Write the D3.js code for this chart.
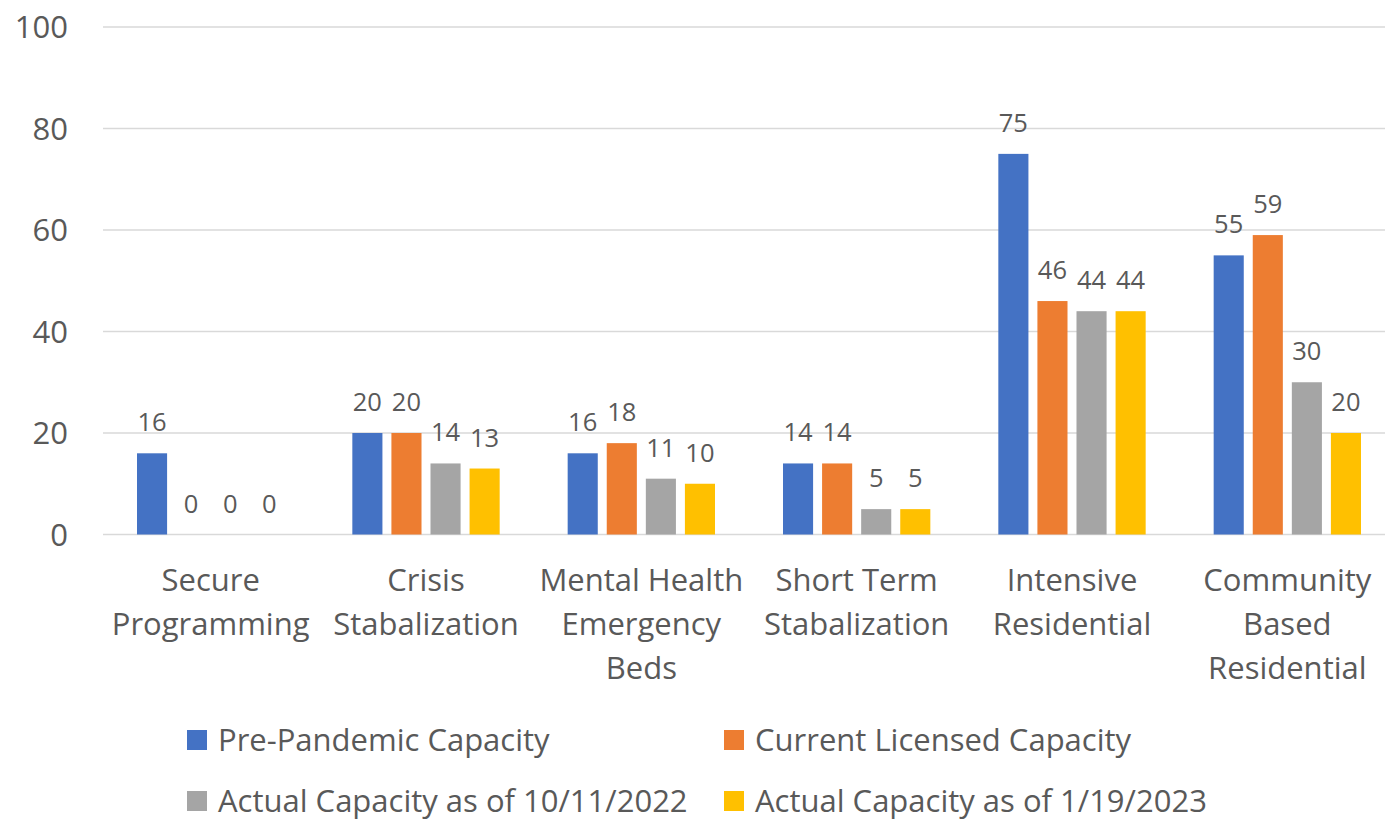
<!DOCTYPE html>
<html>
<head>
<meta charset="utf-8">
<script src="https://cdn.jsdelivr.net/npm/d3@7"></script>
<style>
  body { margin: 0; background: #fff; }
  svg { display: block; }
  text { font-family: "Open Sans", "Noto Sans", sans-serif; fill: #595959; }
</style>
</head>
<body>
<div id="chart"></div>
<script>
// chart data
const categories = [
    ["Secure", "Programming"],
    ["Crisis", "Stabalization"],
    ["Mental Health", "Emergency", "Beds"],
    ["Short Term", "Stabalization"],
    ["Intensive", "Residential"],
    ["Community", "Based", "Residential"]
];
const seriesNames = [
    "Pre-Pandemic Capacity",
    "Current Licensed Capacity",
    "Actual Capacity as of 10/11/2022",
    "Actual Capacity as of 1/19/2023"
];
const prePandemic = [16, 20, 16, 14, 75, 55];
const currentLicensed = [0, 20, 18, 14, 46, 59];
const actual2022 = [0, 14, 11, 5, 44, 30];
const actual2023 = [0, 13, 10, 5, 44, 20];
const yTicks = [0, 20, 40, 60, 80, 100];

const colors = ["#4472C4", "#ED7D31", "#A5A5A5", "#FFC000"];
const seriesValues = [prePandemic, currentLicensed, actual2022, actual2023];

const width = 1385;
const height = 823;

const svg = d3.select("#chart")
    .append("svg")
    .attr("width", width)
    .attr("height", height);

// plot area (runs a little past the right edge, like the reference crop)
const x0 = d3.scaleBand()
    .domain(d3.range(categories.length))
    .range([103, 1395])
    .paddingInner(0)
    .paddingOuter(0);

const x1 = d3.scaleBand()
    .domain(d3.range(seriesNames.length))
    .range([34, x0.bandwidth() - 34])
    .paddingInner(0.23)
    .paddingOuter(0);

const y = d3.scaleLinear()
    .domain([0, 100])
    .range([534.5, 27]);

// gridlines
svg.append("g")
    .selectAll("line")
    .data(yTicks)
    .enter().append("line")
    .attr("x1", 103)
    .attr("x2", width)
    .attr("y1", d => y(d))
    .attr("y2", d => y(d))
    .attr("stroke", "#d9d9d9")
    .attr("stroke-width", 1.5);

// y tick labels
svg.append("g")
    .selectAll("text")
    .data(yTicks)
    .enter().append("text")
    .attr("x", 68)
    .attr("y", d => y(d))
    .attr("dy", "0.36em")
    .attr("text-anchor", "end")
    .style("font-size", "31px")
    .text(d => d);

// bars + value labels
const groups = svg.append("g")
    .selectAll("g")
    .data(categories)
    .enter().append("g")
    .attr("transform", (d, i) => `translate(${x0(i)},0)`);

groups.each(function (cat, ci) {
    const g = d3.select(this);
    const vals = seriesValues.map((s, si) => ({ si: si, v: s[ci] }));

    g.selectAll("rect")
        .data(vals)
        .enter().append("rect")
        .attr("x", d => x1(d.si))
        .attr("y", d => y(d.v))
        .attr("width", x1.bandwidth())
        .attr("height", d => y(0) - y(d.v))
        .attr("fill", d => colors[d.si]);

    g.selectAll("text.val")
        .data(vals)
        .enter().append("text")
        .attr("class", "val")
        .attr("x", d => x1(d.si) + x1.bandwidth() / 2)
        .attr("y", d => y(d.v) - 22)
        .attr("text-anchor", "middle")
        .style("font-size", "25.5px")
        .text(d => d.v);
});

// category labels
groups.append("text")
    .attr("x", x0.bandwidth() / 2)
    .attr("y", 591)
    .attr("text-anchor", "middle")
    .style("font-size", "31px")
    .selectAll("tspan")
    .data(d => d)
    .enter().append("tspan")
    .attr("x", x0.bandwidth() / 2)
    .attr("dy", (d, i) => i === 0 ? 0 : 44)
    .text(d => d);

// legend
const legendPos = [[187, 740], [724, 740], [187, 801], [724, 801]];
const legend = svg.append("g")
    .selectAll("g")
    .data(seriesNames)
    .enter().append("g")
    .attr("transform", (d, i) => `translate(${legendPos[i][0]},${legendPos[i][1]})`);

legend.append("rect")
    .attr("x", 0)
    .attr("y", -10)
    .attr("width", 20)
    .attr("height", 20)
    .attr("fill", (d, i) => colors[i]);

legend.append("text")
    .attr("x", 31)
    .attr("dy", "0.36em")
    .style("font-size", "31px")
    .text(d => d);
</script>
</body>
</html>
